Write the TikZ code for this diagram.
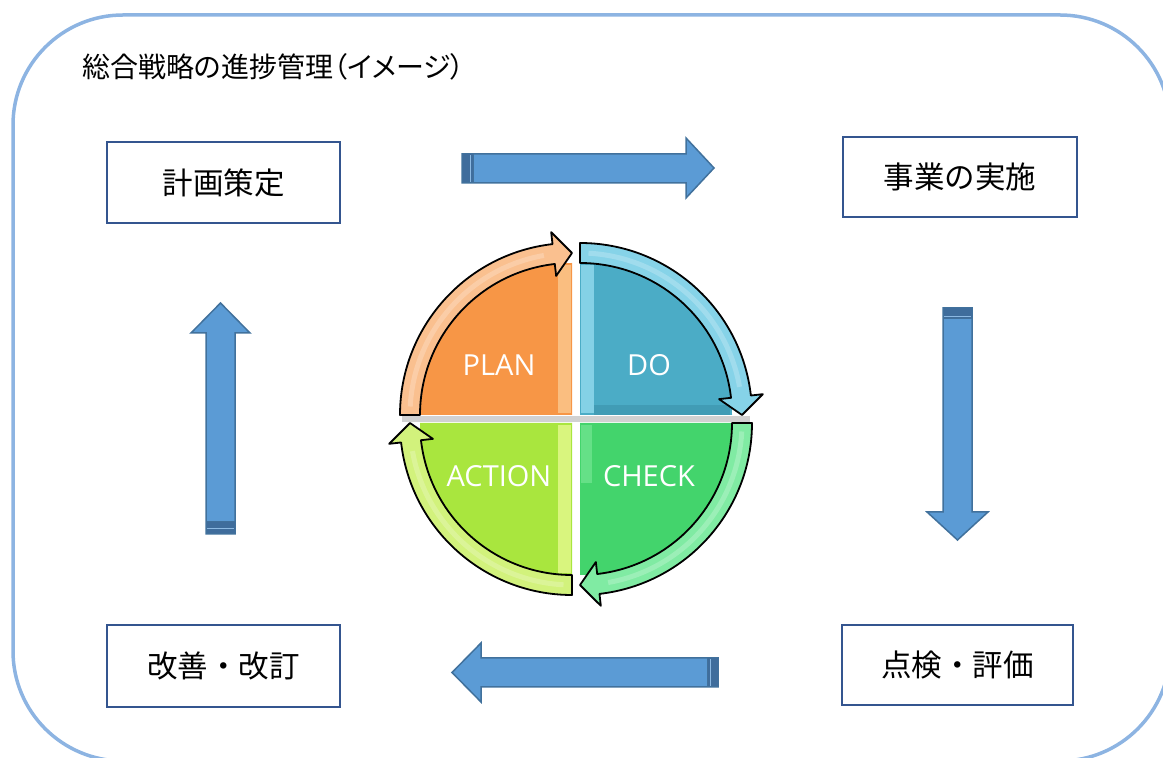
\documentclass[tikz,border=0pt]{standalone}
\usepackage{fontspec}
\newfontfamily\jpfont{Noto Sans CJK JP}
\newfontfamily\jptitlefont[RawFeature={+palt}]{Noto Sans CJK JP}
\newfontfamily\latfont{Open Sans}
\usetikzlibrary{calc}

\definecolor{framecol}{HTML}{8DB4E2}
\definecolor{boxline}{HTML}{34558F}
\definecolor{arrowfill}{HTML}{5B9BD5}
\definecolor{arrowline}{HTML}{41719C}
\definecolor{arrowdark}{HTML}{3F6D9C}
\definecolor{planfill}{HTML}{F79646}
\definecolor{planband}{HTML}{FAC08F}
\definecolor{planlight}{HTML}{FBC98F}
\definecolor{dofill}{HTML}{4BACC6}
\definecolor{doband}{HTML}{86D3E8}
\definecolor{dolight}{HTML}{8ED8EC}
\definecolor{dodark}{HTML}{3E96AE}
\definecolor{checkfill}{HTML}{43D46C}
\definecolor{checkband}{HTML}{80EBA3}
\definecolor{checklight}{HTML}{7CE89A}
\definecolor{actfill}{HTML}{A9E63E}
\definecolor{actband}{HTML}{D2F27C}
\definecolor{actlight}{HTML}{E2F88A}

% curved arrow band around a quadrant; #1 start angle, #2 fill colour
\newcommand\pdcaArrow[2]{%
  \filldraw[fill=#2, draw=black, line width=1.8pt, line join=round]
    (#1:172) arc[start angle=#1, end angle=#1-83.5, radius=172]
    -- (#1-83.5:184) -- (#1-90:162) -- (#1-83.5:140) -- (#1-83.5:152)
    arc[start angle=#1-83.5, end angle=#1, radius=152] -- cycle;
  \draw[white, opacity=0.22, line width=5pt]
    (#1-3:162) arc[start angle=#1-3, end angle=#1-80, radius=162];
}
% quarter pie; #1 start angle, #2 fill colour
\newcommand\pdcaPie[2]{%
  \fill[#2] (0,0) -- (#1:152) arc[start angle=#1, end angle=#1-90, radius=152] -- cycle;
}

\tikzset{
  jpbox/.style={draw=boxline, line width=2.8pt, fill=white, minimum width=233pt,
    minimum height=81pt, inner sep=0pt,
    font=\jpfont\fontsize{30.5}{36}\selectfont},
  blockarrow/.style={fill=arrowfill, draw=arrowline, line width=1.5pt, line join=miter},
  tailband/.style={fill=arrowdark, draw=arrowline, line width=1pt},
  pdcatext/.style={text=white, font=\latfont\fontsize{29}{34}\selectfont, inner sep=0pt},
}

\begin{document}
\begin{tikzpicture}[x=1pt,y=1pt]
\useasboundingbox (0,0) rectangle (1163,758);

% outer frame
\begin{scope}
  \clip (0,0) rectangle (1163,758);
  \draw[framecol, line width=3.5pt, rounded corners=110pt] (13,-3) rectangle (1170,743);
\end{scope}

% title
\node[anchor=west, inner sep=0pt, font=\jptitlefont\fontsize{28}{33}\selectfont]
  (title) at (82,691) {総合戦略の進捗管理（イメージ）};

% boxes
\node[jpbox] (plan) at (223.5,575.5) {計画策定};
\node[jpbox, minimum width=234pt, minimum height=80pt] (do) at (960,581) {事業の実施};
\node[jpbox, minimum height=82pt] (act) at (223.5,92) {改善・改訂};
\node[jpbox, minimum width=231pt, minimum height=80pt] (chk) at (957.5,93) {点検・評価};

% block arrows
% right
\draw[blockarrow] (462,575) -- (686,575) -- (686,560) -- (714,590) -- (686,620) -- (686,604) -- (462,604) -- cycle;
\draw[tailband] (462,575) rectangle (473,604);
\draw[arrowfill!70!white, line width=0.8pt] (470,576) -- (470,603);
% down
\draw[blockarrow] (943,450) -- (943,246) -- (927,246) -- (957.5,218) -- (988,246) -- (972,246) -- (972,450) -- cycle;
\draw[tailband] (943,439) rectangle (972,450);
\draw[arrowfill!70!white, line width=0.8pt] (944,442) -- (971,442);
% up
\draw[blockarrow] (206,224) -- (206,425) -- (191,425) -- (220.5,455) -- (250,425) -- (235,425) -- (235,224) -- cycle;
\draw[tailband] (206,224) rectangle (235,236);
\draw[arrowfill!70!white, line width=0.8pt] (207,230) -- (234,230);
% left
\draw[blockarrow] (718,71) -- (481,71) -- (481,56) -- (452,85.5) -- (481,115) -- (481,100) -- (718,100) -- cycle;
\draw[tailband] (707,71) rectangle (718,100);
\draw[arrowfill!70!white, line width=0.8pt] (710,72) -- (710,99);

% PDCA circle
\fill[black!18] (402,336) rectangle (750,342);

% PLAN
\begin{scope}[shift={(572,343)}]
  \pdcaPie{180}{planfill}
  \fill[planlight, opacity=0.8] (-14,2) rectangle (-1,150);
  \pdcaArrow{180}{planband}
\end{scope}
% DO
\begin{scope}[shift={(580,343)}]
  \pdcaPie{90}{dofill}
  \fill[dolight, opacity=0.85] (1,2) rectangle (14,150);
  \fill[dodark, opacity=0.7] (14,0) rectangle (150,10);
  \pdcaArrow{90}{doband}
\end{scope}
% CHECK
\begin{scope}[shift={(580,335)}]
  \pdcaPie{0}{checkfill}
  \fill[checklight, opacity=0.6] (1,-2) rectangle (12,-60);
  \pdcaArrow{0}{checkband}
\end{scope}
% ACTION
\begin{scope}[shift={(572,335)}]
  \pdcaPie{270}{actfill}
  \fill[actlight, opacity=0.85] (-14,-2) rectangle (-1,-150);
  \pdcaArrow{270}{actband}
\end{scope}

\node[pdcatext] (plantxt) at (499,393) {PLAN};
\node[pdcatext] (dotxt) at (649,393) {DO};
\node[pdcatext] (acttxt) at (499,282) {ACTION};
\node[pdcatext] (chktxt) at (649,282) {CHECK};
\end{tikzpicture}
\end{document}
